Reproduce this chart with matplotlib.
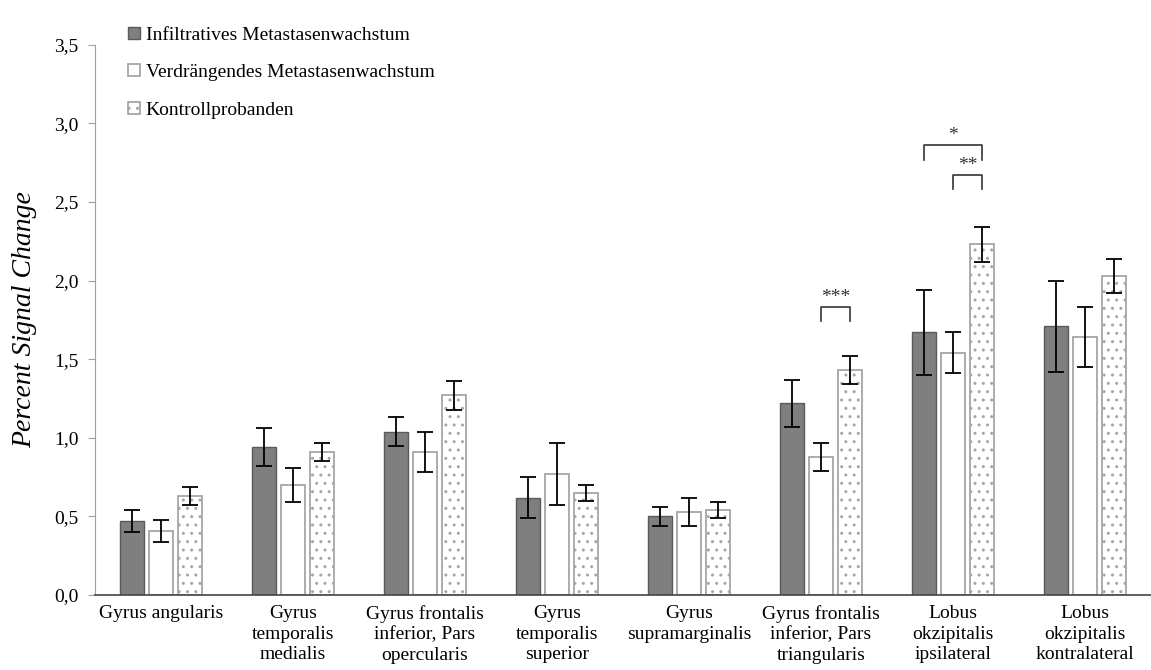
import matplotlib
matplotlib.use("Agg")
import matplotlib.pyplot as plt
import numpy as np

plt.rcParams['font.family'] = ['Liberation Serif', 'DejaVu Serif']
plt.rcParams['hatch.color'] = '#8c8c8c'
plt.rcParams['hatch.linewidth'] = 1.0

# Regionen
regionen = ["Gyrus angularis", "Gyrus\ntemporalis\nmedialis",
            "Gyrus frontalis\ninferior, Pars\nopercularis", "Gyrus\ntemporalis\nsuperior",
            "Gyrus\nsupramarginalis", "Gyrus frontalis\ninferior, Pars\ntriangularis",
            "Lobus\nokzipitalis\nipsilateral", "Lobus\nokzipitalis\nkontralateral"]

# Mittelwerte und Fehler
infiltrativ = [0.47, 0.94, 1.04, 0.62, 0.50, 1.22, 1.67, 1.71]
infiltrativ_err = [0.07, 0.12, 0.09, 0.13, 0.06, 0.15, 0.27, 0.29]
verdraengend = [0.41, 0.70, 0.91, 0.77, 0.53, 0.88, 1.54, 1.64]
verdraengend_err = [0.07, 0.11, 0.13, 0.20, 0.09, 0.09, 0.13, 0.19]
kontrolle = [0.63, 0.91, 1.27, 0.65, 0.54, 1.43, 2.23, 2.03]
kontrolle_err = [0.06, 0.06, 0.09, 0.05, 0.05, 0.09, 0.11, 0.11]

# Signifikanzklammern: (Gruppe, Balken links, Balken rechts, Höhe, Text)
klammern = [(5, 1, 2, 1.83, "***"), (6, 0, 2, 2.86, "*"), (6, 1, 2, 2.67, "**")]

x = np.arange(len(regionen))
w = 0.18
off = 0.22

fig = plt.figure(figsize=(11.51, 6.70), dpi=100)
ax = fig.add_axes([0.0825, 0.112, 0.9175, 0.821])

err_kw = dict(ecolor='black', elinewidth=1.3, capsize=6, capthick=1.3)
ax.bar(x - off, infiltrativ, w, yerr=infiltrativ_err, color='#7f7f7f', edgecolor='#5a5a5a',
       lw=1, error_kw=err_kw, label='Infiltratives Metastasenwachstum')
ax.bar(x, verdraengend, w, yerr=verdraengend_err, color='white', edgecolor='#a6a6a6',
       lw=1.3, error_kw=err_kw, label='Verdrängendes Metastasenwachstum')
ax.bar(x + off, kontrolle, w, yerr=kontrolle_err, color='white', edgecolor='#a6a6a6',
       lw=1.3, hatch='..', error_kw=err_kw, label='Kontrollprobanden')

for g, a, b, h, txt in klammern:
    xa = g + (a - 1) * off
    xb = g + (b - 1) * off
    ax.plot([xa, xa, xb, xb], [h - 0.09, h, h, h - 0.09], color='#333333', lw=1.2)
    ax.text((xa + xb) / 2, h + 0.01, txt, ha='center', va='bottom', fontsize=14, color='#333333')

ax.set_xlim(-0.5, 7.5)
ax.set_ylim(0, 3.5)
ax.set_yticks(np.arange(0, 3.51, 0.5))
ax.set_yticklabels([f"{v:.1f}".replace('.', ',') for v in np.arange(0, 3.51, 0.5)], fontsize=14)
ax.set_xticks(x)
ax.set_xticklabels(regionen, fontsize=14, linespacing=1.3)
ax.tick_params(axis='x', length=0, pad=7)
ax.tick_params(axis='y', length=5, color='#a0a0a0', pad=7)
ax.set_ylabel('Percent Signal Change', fontsize=20, style='italic', labelpad=12)

for s in ['top', 'right']:
    ax.spines[s].set_visible(False)
ax.spines['left'].set_color('#a0a0a0')
ax.spines['bottom'].set_color('#444444')
ax.spines['bottom'].set_linewidth(1.2)

ax.legend(loc='upper left', bbox_to_anchor=(0.015, 1.065), frameon=False, fontsize=14,
          handlelength=0.6, handleheight=0.6, handletextpad=0.3, labelspacing=1.05)

fig.savefig('out.png', dpi=100)
